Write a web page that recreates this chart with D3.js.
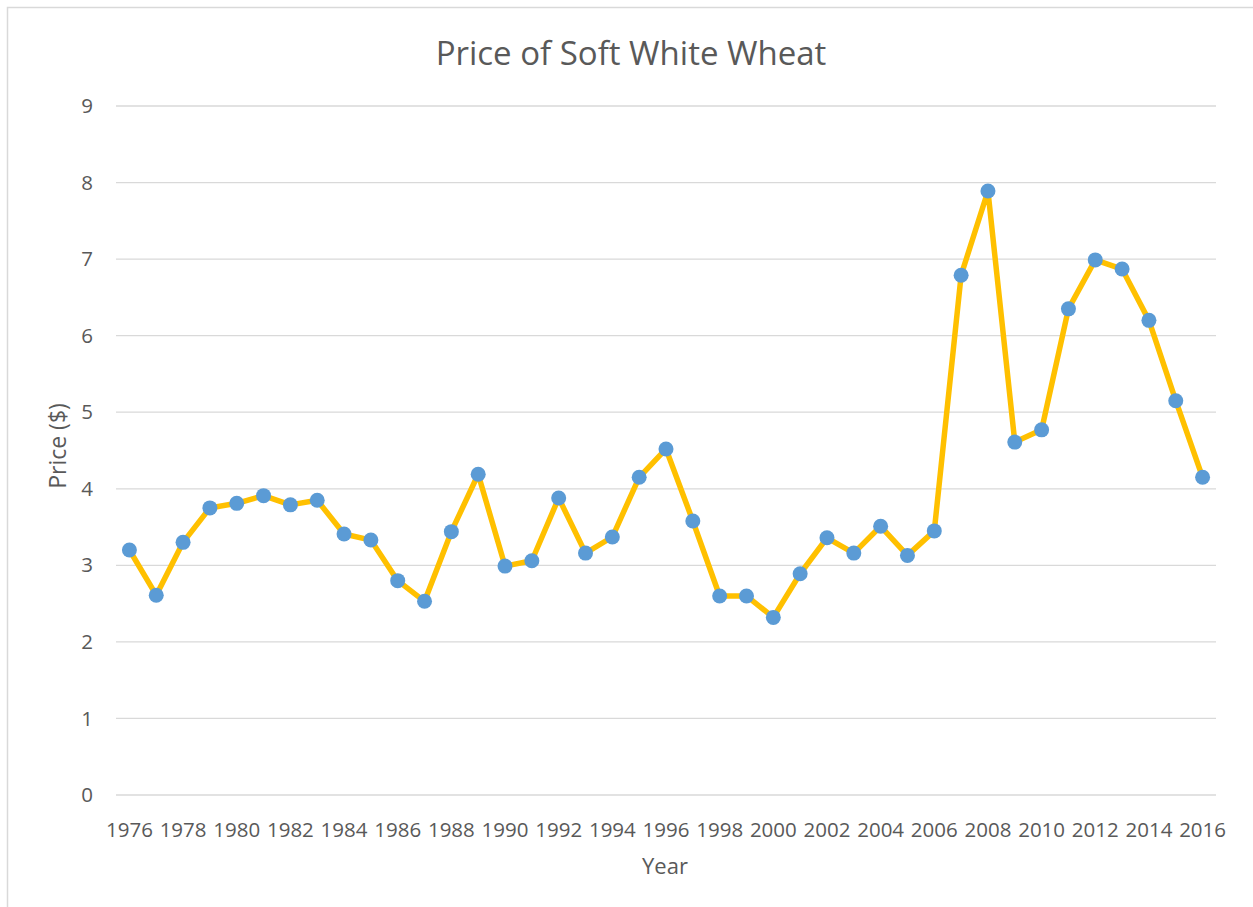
<!DOCTYPE html>
<html>
<head>
<meta charset="utf-8">
<script src="https://cdn.jsdelivr.net/npm/d3@7"></script>
<style>
  body { margin: 0; background: #fff; }
  svg text { font-family: "Open Sans", "Liberation Sans", sans-serif; fill: #595959; }
</style>
</head>
<body>
<div id="chart"></div>
<script>
// data
const years = d3.range(1976, 2017).map(String);
const prices = [3.20, 2.61, 3.30, 3.75, 3.81, 3.91, 3.79, 3.85, 3.41, 3.33,
                2.80, 2.53, 3.44, 4.19, 2.99, 3.06, 3.88, 3.16, 3.37, 4.15,
                4.52, 3.58, 2.60, 2.60, 2.32, 2.89, 3.36, 3.16, 3.51, 3.13,
                3.45, 6.79, 7.89, 4.61, 4.77, 6.35, 6.99, 6.87, 6.20, 5.15, 4.15];
const yTicks = [0, 1, 2, 3, 4, 5, 6, 7, 8, 9];
const xTickLabels = years.filter((d, i) => i % 2 === 0);

const W = 1253, H = 907;
const margin = {top: 106, right: 37, bottom: 112, left: 116};

const svg = d3.select("#chart").append("svg")
    .attr("width", W)
    .attr("height", H);

// chart frame
svg.append("rect")
    .attr("x", 7.5).attr("y", 7.5)
    .attr("width", W + 20).attr("height", H + 20)
    .attr("fill", "none")
    .attr("stroke", "#d9d9d9")
    .attr("stroke-width", 1.5);

let x = d3.scaleBand()
    .domain(years)
    .range([margin.left, W - margin.right]);

let y = d3.scaleLinear()
    .domain([0, 9])
    .range([H - margin.bottom, margin.top]);

// gridlines
svg.append("g")
    .attr("class", "grid")
    .selectAll("line")
    .data(yTicks)
    .enter().append("line")
    .attr("x1", margin.left)
    .attr("x2", W - margin.right)
    .attr("y1", d => y(d))
    .attr("y2", d => y(d))
    .attr("stroke", "#d9d9d9")
    .attr("stroke-width", 1.3);

// y axis labels
let yAxis = d3.axisLeft(y).tickValues(yTicks).tickSize(0).tickPadding(23);
svg.append("g")
    .attr("class", "axis y-axis")
    .attr("transform", `translate(${margin.left}, 0)`)
    .call(yAxis)
    .call(g => g.select(".domain").remove())
    .selectAll("text")
    .style("font-size", "20.5px");

// x axis labels
let xAxis = d3.axisBottom(x).tickValues(xTickLabels).tickSize(0).tickPadding(27);
svg.append("g")
    .attr("class", "axis x-axis")
    .attr("transform", `translate(0, ${H - margin.bottom})`)
    .call(xAxis)
    .call(g => g.select(".domain").remove())
    .selectAll("text")
    .style("font-size", "20.5px");

// line
let line = d3.line()
    .x((d, i) => x(years[i]) + x.bandwidth() / 2)
    .y(d => y(d));

svg.append("path")
    .datum(prices)
    .attr("d", line)
    .attr("fill", "none")
    .attr("stroke", "#FFC000")
    .attr("stroke-width", 5.5)
    .attr("stroke-linejoin", "round");

// markers
svg.append("g")
    .selectAll("circle")
    .data(prices)
    .enter().append("circle")
    .attr("cx", (d, i) => x(years[i]) + x.bandwidth() / 2)
    .attr("cy", d => y(d))
    .attr("r", 7.5)
    .attr("fill", "#5B9BD5");

// title
svg.append("text")
    .attr("x", 631)
    .attr("y", 65)
    .attr("text-anchor", "middle")
    .style("font-size", "33px")
    .text("Price of Soft White Wheat");

// axis titles
svg.append("text")
    .attr("x", 665)
    .attr("y", 874)
    .attr("text-anchor", "middle")
    .style("font-size", "22px")
    .text("Year");

svg.append("text")
    .attr("transform", `translate(66, 446) rotate(-90)`)
    .attr("text-anchor", "middle")
    .style("font-size", "23px")
    .text("Price ($)");
</script>
</body>
</html>
